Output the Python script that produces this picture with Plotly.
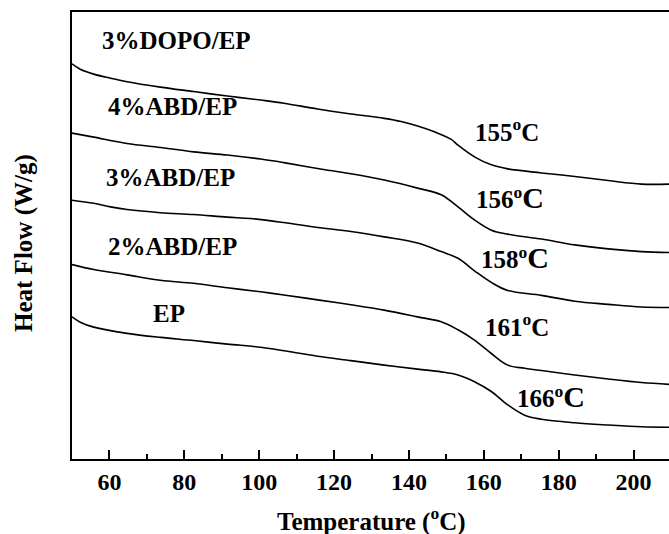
import plotly.graph_objects as go

# Temperature (°C) sample points shared by all curves
temp_dopo = [50.0, 52.2, 55.8, 60.3, 64.7, 73.6, 82.5, 91.5, 100.4, 106.6, 115.6, 124.5, 133.4, 137.9,
             142.3, 146.8, 151.3, 153.1, 157.5, 162.0, 166.4, 175.4, 184.3, 193.2, 202.1, 209.5]
hf_dopo = [8.84, 8.72, 8.61, 8.52, 8.44, 8.32, 8.22, 8.12, 8.03, 7.96, 7.83, 7.72, 7.62, 7.55,
           7.45, 7.32, 7.15, 7.02, 6.76, 6.58, 6.49, 6.40, 6.32, 6.23, 6.15, 6.15]

temp_abd4 = [50.0, 55.8, 64.7, 73.6, 82.5, 91.5, 100.4, 106.6, 115.6, 124.5, 133.4, 142.3, 148.6,
             153.1, 157.5, 162.0, 166.4, 175.4, 184.3, 193.2, 202.1, 209.5]
hf_abd4 = [7.29, 7.20, 7.06, 6.97, 6.87, 6.80, 6.71, 6.63, 6.50, 6.38, 6.24, 6.06, 5.91,
           5.64, 5.35, 5.12, 5.03, 4.92, 4.79, 4.70, 4.64, 4.62]

temp_abd3 = [50.0, 55.8, 60.3, 64.7, 73.6, 82.5, 91.5, 97.7, 106.6, 115.6, 124.5, 133.4, 142.3, 148.6,
             153.1, 157.5, 162.0, 166.4, 175.4, 184.3, 193.2, 202.1, 209.5]
hf_abd3 = [5.79, 5.72, 5.64, 5.58, 5.51, 5.47, 5.41, 5.38, 5.29, 5.18, 5.09, 4.97, 4.83, 4.64,
           4.49, 4.21, 3.95, 3.77, 3.66, 3.53, 3.46, 3.40, 3.39]

temp_abd2 = [50.0, 55.8, 64.7, 73.6, 82.5, 91.5, 100.4, 106.6, 115.6, 124.5, 133.4, 142.3, 148.6,
             153.1, 157.5, 162.0, 166.4, 170.9, 175.4, 184.3, 193.2, 202.1, 209.5]
hf_abd2 = [4.35, 4.24, 4.12, 4.00, 3.93, 3.83, 3.74, 3.67, 3.56, 3.45, 3.33, 3.18, 3.07,
           2.89, 2.66, 2.36, 2.10, 2.03, 1.98, 1.88, 1.79, 1.71, 1.67]

temp_ep = [50.0, 52.2, 55.8, 64.7, 73.6, 82.5, 91.5, 100.4, 106.6, 115.6, 124.5, 133.4, 142.3, 148.6,
           153.1, 157.5, 162.0, 166.4, 170.9, 175.4, 184.3, 193.2, 202.1, 209.5]
hf_ep = [3.18, 3.06, 2.95, 2.81, 2.72, 2.65, 2.57, 2.50, 2.42, 2.30, 2.20, 2.10, 2.01, 1.95,
         1.88, 1.73, 1.51, 1.21, 0.98, 0.89, 0.81, 0.76, 0.72, 0.71]

series_names = ["3%DOPO/EP", "4%ABD/EP", "3%ABD/EP", "2%ABD/EP", "EP"]
series_temps = [temp_dopo, temp_abd4, temp_abd3, temp_abd2, temp_ep]
series_hf = [hf_dopo, hf_abd4, hf_abd3, hf_abd2, hf_ep]

# sample label positions (temperature, heat flow)
name_label_x = [77.8, 76.8, 76.4, 76.8, 76.0]
name_label_y = [9.37, 7.88, 6.29, 4.75, 3.26]

tg_labels = ['155<sup>o</sup>C',
             '156<sup>o</sup><span style="font-size:30px">C</span>',
             '158<sup>o</sup><span style="font-size:30px">C</span>',
             '161<sup>o</sup>C',
             '166<sup>o</sup><span style="font-size:30px">C</span>']
tg_label_x = [166.1, 167.1, 168.4, 168.8, 177.8]
tg_label_y = [7.36, 5.84, 4.50, 3.00, 1.40]

x_ticks = [60, 80, 100, 120, 140, 160, 180, 200]

FONT = "Liberation Serif"

fig = go.Figure()
for name, t, h in zip(series_names, series_temps, series_hf):
    fig.add_trace(go.Scatter(x=t, y=h, mode="lines", name=name,
                             line=dict(color="black", width=1.6, shape="spline", smoothing=1.0),
                             showlegend=False, hoverinfo="skip"))

annotations = []
for txt, x, y in zip(series_names, name_label_x, name_label_y):
    annotations.append(dict(x=x, y=y, xref="x", yref="y", text=txt, showarrow=False,
                            font=dict(family=FONT, size=25, color="black", weight="bold"),
                            xanchor="center", yanchor="middle"))
for txt, x, y in zip(tg_labels, tg_label_x, tg_label_y):
    annotations.append(dict(x=x, y=y, xref="x", yref="y", text=txt, showarrow=False,
                            font=dict(family=FONT, size=25, color="black", weight="bold"),
                            xanchor="center", yanchor="middle"))

# plot area: x 72..669, y 12..459 (pixels)
annotations.append(dict(x=(371.6 - 72) / 597, y=(459 - 519) / 447, xref="paper", yref="paper",
                        text="Temperature (<sup>o</sup>C)", showarrow=False,
                        font=dict(family=FONT, size=25, color="black", weight="bold"),
                        xanchor="center", yanchor="middle"))
annotations.append(dict(x=(23.5 - 72) / 597, y=(459 - 243.5) / 447, xref="paper", yref="paper",
                        text="Heat Flow (W/g)", showarrow=False, textangle=-90,
                        font=dict(family=FONT, size=25, color="black", weight="bold"),
                        xanchor="center", yanchor="middle"))

fig.update_layout(
    width=669, height=534,
    margin=dict(l=72, r=0, t=12, b=75, pad=0),
    paper_bgcolor="white", plot_bgcolor="white",
    font=dict(family=FONT, size=24, color="black", weight="bold"),
    annotations=annotations,
    xaxis=dict(range=[50, 209.45], tickvals=x_ticks, ticks="inside", ticklen=9, tickwidth=1.5,
               tickcolor="black", showline=True, linewidth=2, linecolor="black", mirror=True,
               showgrid=False, zeroline=False,
               tickfont=dict(family=FONT, size=24, color="black", weight="bold"),
               minor=dict(tickvals=[70, 90, 110, 130, 150, 170, 190], ticks="inside", ticklen=5,
                          tickwidth=1.5, tickcolor="black", showgrid=False)),
    yaxis=dict(range=[0, 10], showticklabels=False, ticks="", showline=True, linewidth=2,
               linecolor="black", mirror=False, showgrid=False, zeroline=False),
)

fig.write_html("out.html")
